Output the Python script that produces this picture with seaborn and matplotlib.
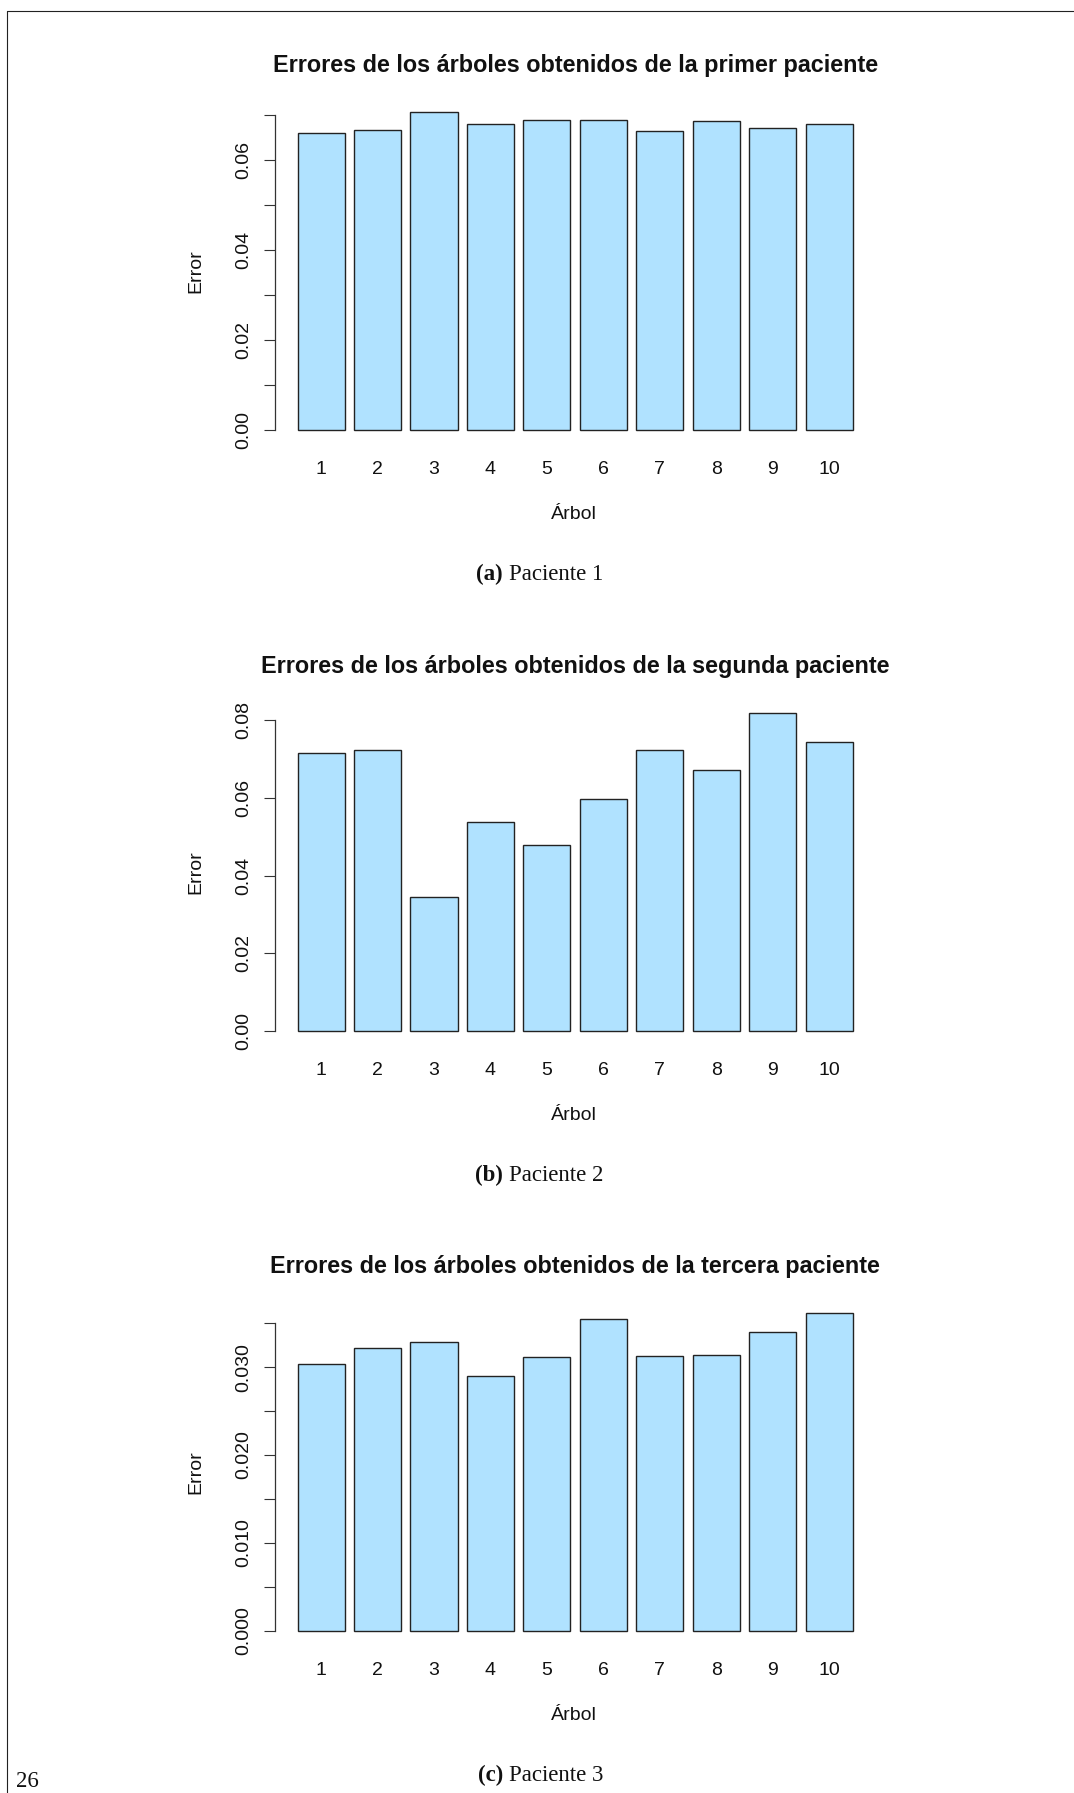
import matplotlib
matplotlib.use("Agg")
import matplotlib.pyplot as plt
import pandas as pd
import seaborn as sns
from matplotlib.lines import Line2D

# ---- data -------------------------------------------------------------
arboles = ["1", "2", "3", "4", "5", "6", "7", "8", "9", "10"]

errores_p1 = [0.0661, 0.0667, 0.0706, 0.0680, 0.0690, 0.0689, 0.0665, 0.0686, 0.0671, 0.0680]
errores_p2 = [0.0715, 0.0723, 0.0344, 0.0537, 0.0478, 0.0598, 0.0722, 0.0671, 0.0817, 0.0743]
errores_p3 = [0.0303, 0.0322, 0.0328, 0.0290, 0.0312, 0.0355, 0.0313, 0.0314, 0.0340, 0.0361]

titulos = [
    "Errores de los árboles obtenidos de la primer paciente",
    "Errores de los árboles obtenidos de la segunda paciente",
    "Errores de los árboles obtenidos de la tercera paciente",
]
etiquetas = ["(a)", "(b)", "(c)"]
subtitulos = ["Paciente 1", "Paciente 2", "Paciente 3"]

yticks_p1 = [0.00, 0.01, 0.02, 0.03, 0.04, 0.05, 0.06, 0.07]
ylabels_p1 = ["0.00", "", "0.02", "", "0.04", "", "0.06", ""]
yticks_p2 = [0.00, 0.02, 0.04, 0.06, 0.08]
ylabels_p2 = ["0.00", "0.02", "0.04", "0.06", "0.08"]
yticks_p3 = [0.000, 0.005, 0.010, 0.015, 0.020, 0.025, 0.030, 0.035]
ylabels_p3 = ["0.000", "", "0.010", "", "0.020", "", "0.030", ""]

paneles = [
    (errores_p1, yticks_p1, ylabels_p1),
    (errores_p2, yticks_p2, ylabels_p2),
    (errores_p3, yticks_p3, ylabels_p3),
]

# ---- style ------------------------------------------------------------
sns.set_style("white")
plt.rcParams["font.family"] = ["Liberation Sans", "DejaVu Sans"]

W, H = 1074, 1793
fig = plt.figure(figsize=(W / 100, H / 100), dpi=100)
fig.patch.set_facecolor("white")


def fx(px):
    return px / W


def fy(py):
    return 1 - py / H


FILL = "#B0E2FF"
EDGE = "#222222"
AX_COLOR = "#333333"
TXT = "#111111"
FS_TICK = 14.0
FS_TITLE = 16.8
FS_CAP = 16.5

ax_left, ax_right = 275.3, 875.1
ax_h = 343.0
tops = [99.7, 700.7, 1300.7]

for (vals, yt, yl), top, titulo, etq, sub in zip(paneles, tops, titulos, etiquetas, subtitulos):
    bottom = top + ax_h
    ax = fig.add_axes([fx(ax_left), fy(bottom), fx(ax_right - ax_left), ax_h / H])
    df = pd.DataFrame({"Árbol": arboles, "Error": vals})
    sns.barplot(data=df, x="Árbol", y="Error", color=FILL, saturation=1,
                width=1 / 1.2, edgecolor=EDGE, linewidth=1.0, ax=ax)
    vmax = max(vals)
    ax.set_ylim(-0.04 * vmax, 1.04 * vmax)
    ax.set_xlim(-0.81, 9.81)
    ax.set_facecolor("white")
    for s in ["top", "right", "bottom"]:
        ax.spines[s].set_visible(False)
    ax.spines["left"].set_bounds(yt[0], yt[-1])
    ax.spines["left"].set_color(AX_COLOR)
    ax.spines["left"].set_linewidth(0.9)
    ax.set_yticks(yt)
    ax.set_yticklabels(yl, rotation=90, va="center")
    ax.tick_params(axis="y", length=7.9, width=0.8, color=AX_COLOR,
                   labelsize=FS_TICK, labelcolor=TXT, pad=9.0, left=True)
    ax.tick_params(axis="x", length=0, labelsize=FS_TICK, labelcolor=TXT, pad=13.4)
    ax.set_xlabel("")
    ax.set_ylabel("")
    ax.grid(False)

    fig.text(fx((ax_left + ax_right) / 2), fy(top - 34.5), titulo,
             ha="center", va="center", fontsize=FS_TITLE, fontweight="bold", color=TXT)
    fig.text(fx(574), fy(bottom + 71.5), "Árbol", ha="center", va="center",
             fontsize=FS_TICK, color=TXT)
    fig.text(fx(195.6), fy(top + ax_h / 2), "Error", ha="center", va="center",
             rotation=90, fontsize=FS_TICK, color=TXT)
    fig.text(fx(503), fy(bottom + 132), etq, ha="right", va="center",
             fontsize=FS_CAP, fontweight="bold", family="Liberation Serif", color=TXT)
    fig.text(fx(509), fy(bottom + 132), sub, ha="left", va="center",
             fontsize=FS_CAP, family="Liberation Serif", color=TXT)

# page frame and folio
fig.add_artist(Line2D([fx(6.8), fx(W)], [fy(10.6), fy(10.6)], color="#222222", lw=0.8))
fig.add_artist(Line2D([fx(6.8), fx(6.8)], [fy(10.6), fy(H)], color="#222222", lw=0.8))
fig.text(fx(16), fy(1792), "26", ha="left", va="bottom", fontsize=FS_CAP,
         family="Liberation Serif", color=TXT)

fig.savefig("out.png", dpi=100)
